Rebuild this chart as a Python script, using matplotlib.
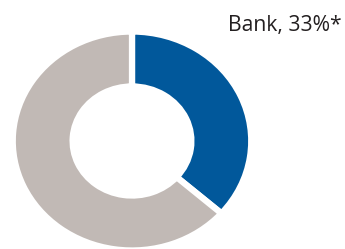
import matplotlib.pyplot as plt

# Daten
labels = ['Bank', 'Other']
shares = [36.5, 63.5]      # arc as drawn in the reference
label_pct = 33             # value printed in the label
colors = ['#01589B', '#C1B9B5']

fig = plt.figure(figsize=(3.45, 2.49), dpi=100)
ax = fig.add_axes([0, 0, 1, 1])

ax.pie(shares, colors=colors, startangle=90, counterclock=False,
       radius=1.028,
       wedgeprops=dict(width=0.516, edgecolor='white', linewidth=4.5))

# donut is slightly wider than tall in the reference
sx, sy = 116.0, 106.5        # pixels per unit
cx, cy = 132.0, 249 - 141.0  # centre in pixels
ax.set_aspect('auto')
ax.set_xlim(-cx / sx, (345 - cx) / sx)
ax.set_ylim(-cy / sy, (249 - cy) / sy)
ax.axis('off')

fig.text(342 / 345, 217.5 / 249, f'{labels[0]}, {label_pct}%*', ha='right',
         va='baseline', fontsize=15.2, family='Open Sans', color='#231F20')

fig.savefig('out.png', dpi=100)
